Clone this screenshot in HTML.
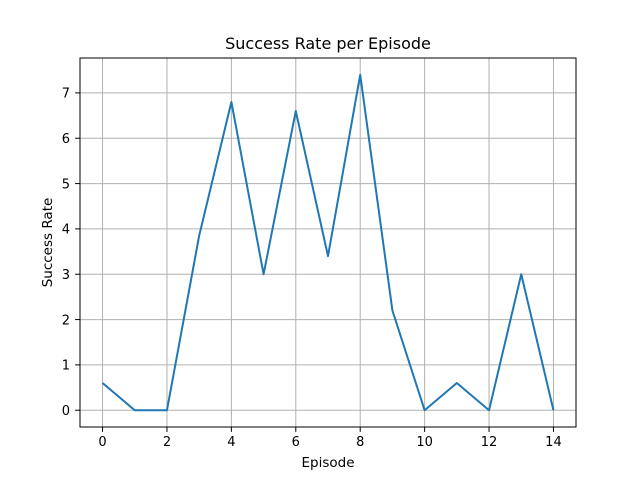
<!DOCTYPE html>
<html><head><meta charset="utf-8"><style>body{margin:0;background:#fff}svg{display:block}text{font-family:"DejaVu Sans","Liberation Sans",sans-serif;fill:#000}</style></head>
<body>
<svg id="chart" width="640" height="480" viewBox="0 0 640 480">
<rect width="640" height="480" fill="#fff"/>
<g id="grid"></g>
<g id="series"></g>
<rect x="80" y="58" width="496" height="369" fill="none" stroke="#000" stroke-width="1"/>
<g id="ticks"></g>
<text x="328" y="49" font-size="16" text-anchor="middle">Success Rate per Episode</text>
<text x="328" y="467" font-size="13.5" text-anchor="middle">Episode</text>
<text transform="translate(52,242.5) rotate(-90)" font-size="13.5" text-anchor="middle">Success Rate</text>
</svg>
<script>
const episodes = [0,1,2,3,4,5,6,7,8,9,10,11,12,13,14];
const successRates = [0.6,0,0,3.85,6.8,3.0,6.6,3.4,7.4,2.2,0,0.6,0,3.0,0];
const xTicks = [0,2,4,6,8,10,12,14];
const yTicks = [0,1,2,3,4,5,6,7];
const L=80,R=576,T=58,B=427;
const xmin=Math.min(...episodes),xmax=Math.max(...episodes);
const ymin=Math.min(...successRates),ymax=Math.max(...successRates);
const xpad=(xmax-xmin)*0.05,ypad=(ymax-ymin)*0.05;
const xs=v=>L+(v-(xmin-xpad))/((xmax+xpad)-(xmin-xpad))*(R-L);
const ys=v=>B-(v-(ymin-ypad))/((ymax+ypad)-(ymin-ypad))*(B-T);
const NS="http://www.w3.org/2000/svg";
const grid=document.getElementById('grid'),ticks=document.getElementById('ticks'),series=document.getElementById('series');
function mk(tag,attrs,parent){const e=document.createElementNS(NS,tag);for(const k in attrs)e.setAttribute(k,attrs[k]);parent.appendChild(e);return e;}
xTicks.forEach(t=>{const x=xs(t);
 const g=mk('line',{x1:x,x2:x,y1:T,y2:B,stroke:'#b0b0b0','stroke-width':1},grid);
 
 
 const tk=mk('line',{x1:x,x2:x,y1:B,y2:B+4.9,stroke:'#000','stroke-width':1},ticks);
 
 
 const tx=mk('text',{x:x,y:B+19,'font-size':13,'text-anchor':'middle'},ticks);tx.textContent=t;
 
 
});
yTicks.forEach(t=>{const y=ys(t);
 const g=mk('line',{x1:L,x2:R,y1:y,y2:y,stroke:'#b0b0b0','stroke-width':1},grid);
 
 
 const tk=mk('line',{x1:L-4.9,x2:L,y1:y,y2:y,stroke:'#000','stroke-width':1},ticks);
 
 
 const tx=mk('text',{x:L-10,y:y+4.8,'font-size':13,'text-anchor':'end'},ticks);tx.textContent=t;
 
 
});
const pts=episodes.map((e,i)=>xs(e)+','+ys(successRates[i])).join(' ');
const line=mk('polyline',{points:pts,fill:'none',stroke:'#1f77b4','stroke-width':2,'stroke-linejoin':'round'},series);


</script>
</body></html>
